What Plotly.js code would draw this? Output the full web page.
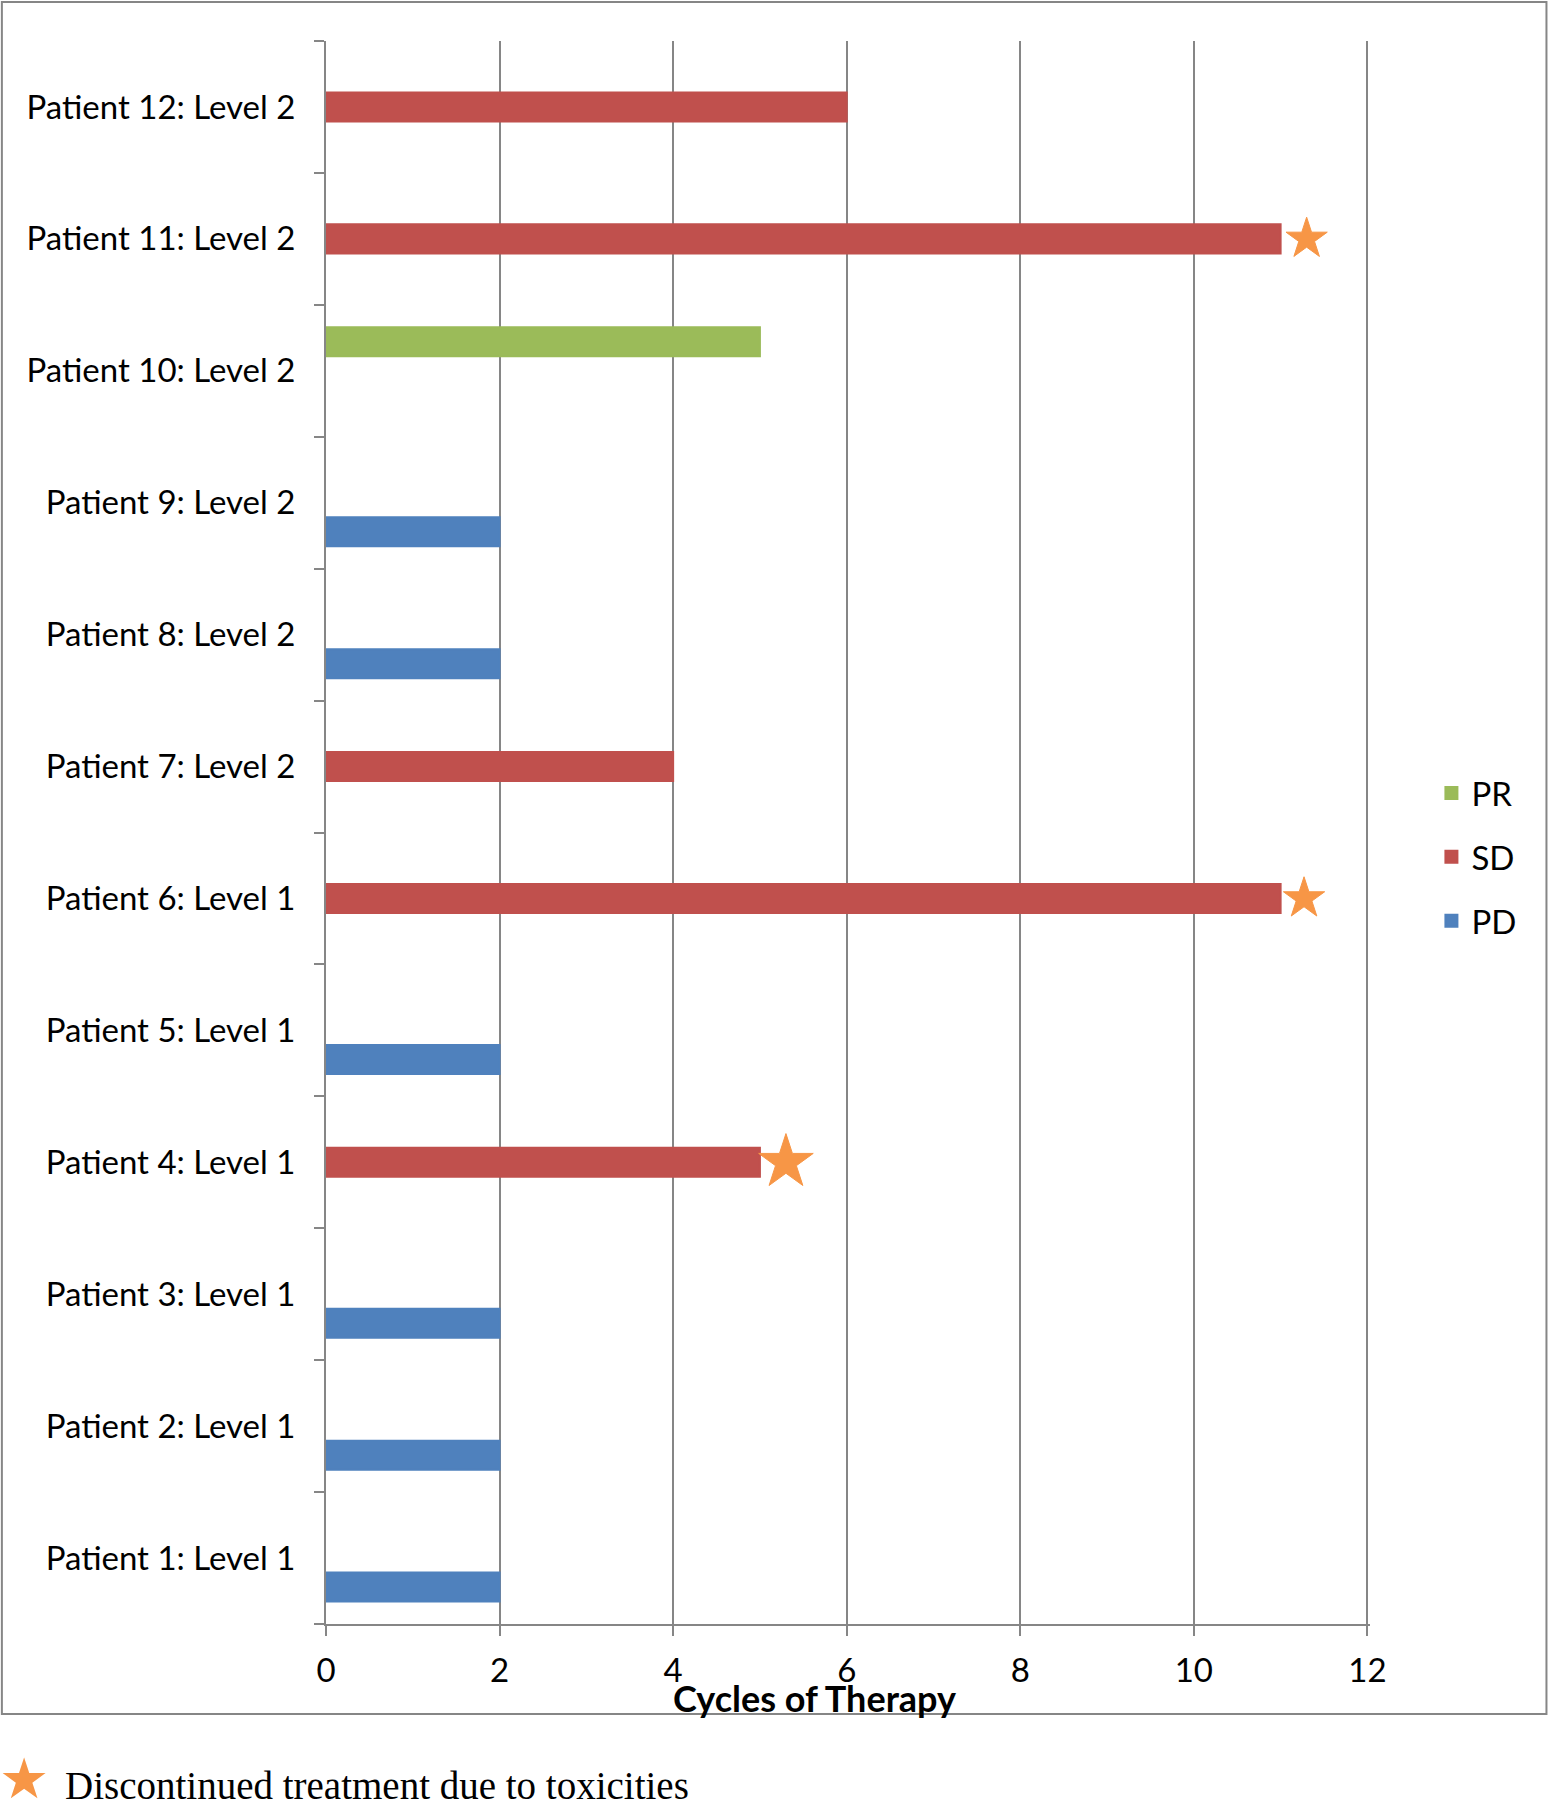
<html lang="en">
  <head>
    <meta charset="UTF-8" />
    <title>Cycles of Therapy</title>
    <script src="https://cdn.plot.ly/plotly-3.0.1.min.js"></script>
  </head>
  <body style="margin: 0">
    <div id="chart" style="width: 1548px; height: 1800px"></div>
    <script>
      const patients = [
        "Patient 1: Level 1",
        "Patient 2: Level 1",
        "Patient 3: Level 1",
        "Patient 4: Level 1",
        "Patient 5: Level 1",
        "Patient 6: Level 1",
        "Patient 7: Level 2",
        "Patient 8: Level 2",
        "Patient 9: Level 2",
        "Patient 10: Level 2",
        "Patient 11: Level 2",
        "Patient 12: Level 2",
      ];
      // one value per patient, null where the patient is in another group
      const pd = [2, 2, 2, null, 2, null, null, 2, 2, null, null, null];
      const sd = [null, null, null, 5, null, 11, 4, null, null, null, 11, 6];
      const pr = [null, null, null, null, null, null, null, null, null, 5, null, null];

      // stars: discontinued due to toxicities
      const starPatients = ["Patient 11: Level 2", "Patient 6: Level 1", "Patient 4: Level 1"];
      const starX = [11.3, 11.27, 5.3];
      const starSize = [31, 31, 41];

      const xTicks = [0, 2, 4, 6, 8, 10, 12];
      const xMax = 12.03; // a bit past 12 so the last gridline is drawn

      const grey = "#868686";
      const calibri = "Lato, 'Open Sans', sans-serif";

      // chart frame in pixels, turned into paper fractions below
      const W = 1548, H = 1800;
      const x0px = 326, x12px = 1367;
      const m = { l: x0px, t: 41, b: 176 };
      m.r = W - x0px - ((x12px - x0px) * xMax) / 12;
      const pw = W - m.l - m.r, ph = H - m.t - m.b;
      const px = (x) => (x - m.l) / pw;
      const py = (y) => (H - m.b - y) / ph;

      function barTrace(name, values, color, rank) {
        return {
          type: "bar",
          orientation: "h",
          name: name,
          legendgroup: name,
          legendrank: rank,
          y: patients,
          x: values,
          marker: { color: color, line: { color: color, width: 2 } },
          hoverinfo: "x+y",
        };
      }

      const data = [
        barTrace("PD", pd, "#4F81BD", 3),
        barTrace("SD", sd, "#C0504D", 2),
        barTrace("PR", pr, "#9BBB59", 1),
        {
          type: "scatter",
          mode: "markers",
          y: starPatients,
          x: starX,
          marker: {
            symbol: "star",
            size: starSize,
            color: "#F79646",
            opacity: 1,
            line: { color: "#F79646", width: 1 },
          },
          showlegend: false,
          cliponaxis: false,
        },
      ];

      const layout = {
        width: W,
        height: H,
        margin: m,
        paper_bgcolor: "white",
        plot_bgcolor: "white",
        barmode: "group",
        bargap: 0.34,
        bargroupgap: 0,
        font: { family: calibri, size: 33, color: "black" },
        xaxis: {
          range: [0, xMax],
          tickvals: xTicks,
          ticktext: xTicks.map(String),
          showgrid: true,
          gridcolor: grey,
          gridwidth: 2,
          zeroline: false,
          showline: true,
          linecolor: grey,
          linewidth: 2,
          ticks: "outside",
          ticklen: 10,
          tickwidth: 2,
          tickcolor: grey,
          tickfont: { family: calibri, size: 33, color: "black" },
          ticklabelstandoff: 6,
        },
        yaxis: {
          type: "category",
          categoryorder: "array",
          categoryarray: patients,
          showgrid: false,
          zeroline: false,
          showline: true,
          linecolor: grey,
          linewidth: 2,
          ticks: "outside",
          tickson: "boundaries",
          ticklen: 10,
          tickwidth: 2,
          tickcolor: grey,
          tickfont: { family: calibri, size: 33, color: "black" },
          ticklabelstandoff: 22,
        },
        legend: {
          x: px(1431),
          y: py(765),
          xanchor: "left",
          yanchor: "top",
          traceorder: "grouped",
          tracegroupgap: 18,
          font: { family: calibri, size: 33, color: "black" },
          bgcolor: "rgba(0,0,0,0)",
        },
        annotations: [
          {
            text: "<b>Cycles of Therapy</b>",
            xref: "paper",
            yref: "paper",
            x: px(814),
            y: py(1698),
            xanchor: "center",
            yanchor: "middle",
            showarrow: false,
            font: { family: calibri, size: 36, color: "black" },
          },
          {
            text: "★",
            xref: "paper",
            yref: "paper",
            x: px(24),
            y: py(1778),
            xanchor: "center",
            yanchor: "middle",
            showarrow: false,
            font: { family: "DejaVu Sans", size: 56, color: "#F79646" },
          },
          {
            text: "Discontinued treatment due to toxicities",
            xref: "paper",
            yref: "paper",
            x: px(63),
            y: py(1785),
            xanchor: "left",
            yanchor: "middle",
            showarrow: false,
            font: { family: "'Liberation Serif', 'Times New Roman', serif", size: 39, color: "black" },
          },
        ],
        shapes: [
          {
            type: "rect",
            xref: "paper",
            yref: "paper",
            x0: px(2),
            x1: px(1546),
            y0: py(1714),
            y1: py(2),
            line: { color: grey, width: 2 },
            layer: "below",
          },
        ],
      };

      Plotly.newPlot("chart", data, layout, { displayModeBar: false });
    </script>
  </body>
</html>
